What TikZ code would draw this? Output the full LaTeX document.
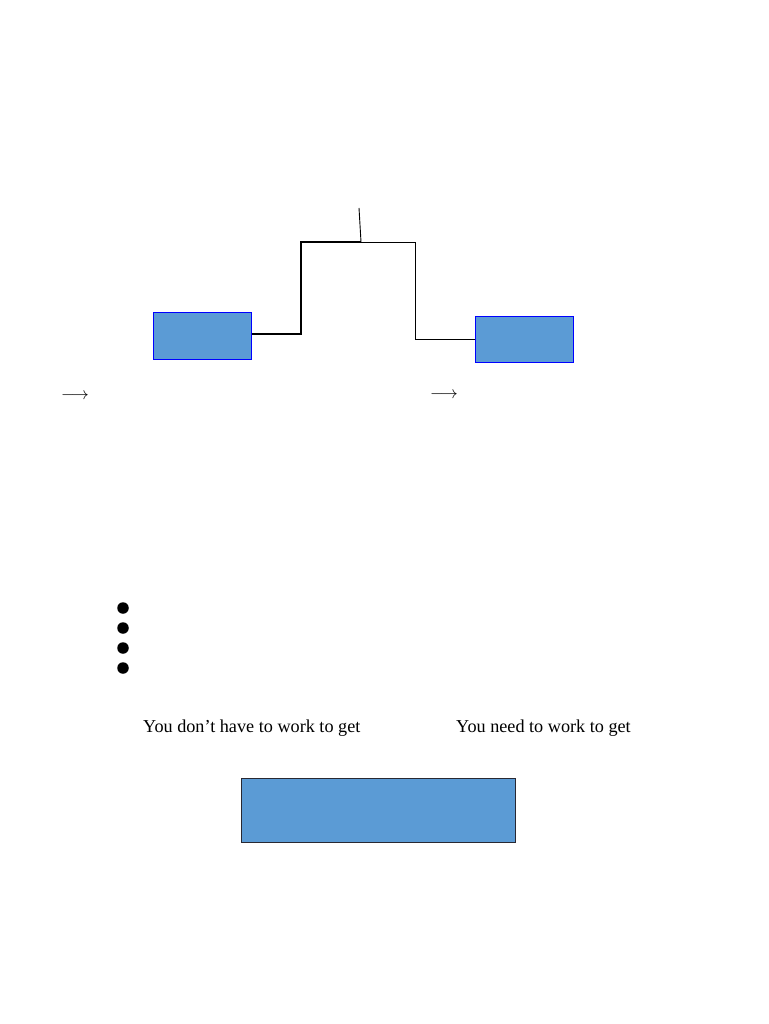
\documentclass[tikz,border=0pt]{standalone}
\usepackage{fontspec}
\setmainfont{Liberation Serif}
\begin{document}
\begin{tikzpicture}[x=1pt,y=-1pt,
  bluebox/.style={draw=blue, line width=1.4pt, fill={rgb,255:red,91;green,155;blue,213}, inner sep=0pt, anchor=north west},
  darkbox/.style={draw={rgb,255:red,40;green,40;blue,50}, line width=1.3pt, fill={rgb,255:red,91;green,155;blue,213}, inner sep=0pt, anchor=north west},
  conn/.style={draw=black, line width=1.4pt},
  thinconn/.style={draw=black, line width=0.9pt},
  lbl/.style={font=\fontsize{18.2}{21}\selectfont, inner sep=0pt, anchor=west},
  arr/.style={font=\fontsize{18.5}{21}\selectfont, inner sep=0pt},
  bullet/.style={circle, fill=black, inner sep=0pt, minimum size=11.5pt}]
\useasboundingbox (0,0) rectangle (768,1024);
\fill[white] (0,0) rectangle (768,1024);
% boxes
\node[bluebox, minimum width=98pt, minimum height=47pt] (L) at (153,312) {};
\node[bluebox, minimum width=98pt, minimum height=46pt] (R) at (475,316) {};
\node[darkbox, minimum width=274pt, minimum height=64pt] (B) at (241,778) {};
% connector
\coordinate (top) at (359,208);
\coordinate (junction) at (361,242);
\draw[conn] (L.east |- 0,334) -- (301,334) -- (301,242) -- (junction);
\draw[thinconn] (junction) -- (415,242) -- (415,339) -- (R.west |- 0,339);
\draw[thinconn] (top) -- (junction);
% arrows
\node[arr] (a1) at (75,396) {$\longrightarrow$};
\node[arr] (a2) at (444,395) {$\longrightarrow$};
% bullets
\node[bullet] (b1) at (123,608) {};
\node[bullet] (b2) at (123,628) {};
\node[bullet] (b3) at (123,648) {};
\node[bullet] (b4) at (123,668) {};
% texts
\node[lbl] (t1) at (143,728) {You don’t have to work to get};
\node[lbl] (t2) at (456,728) {You need to work to get};
\end{tikzpicture}
\end{document}
